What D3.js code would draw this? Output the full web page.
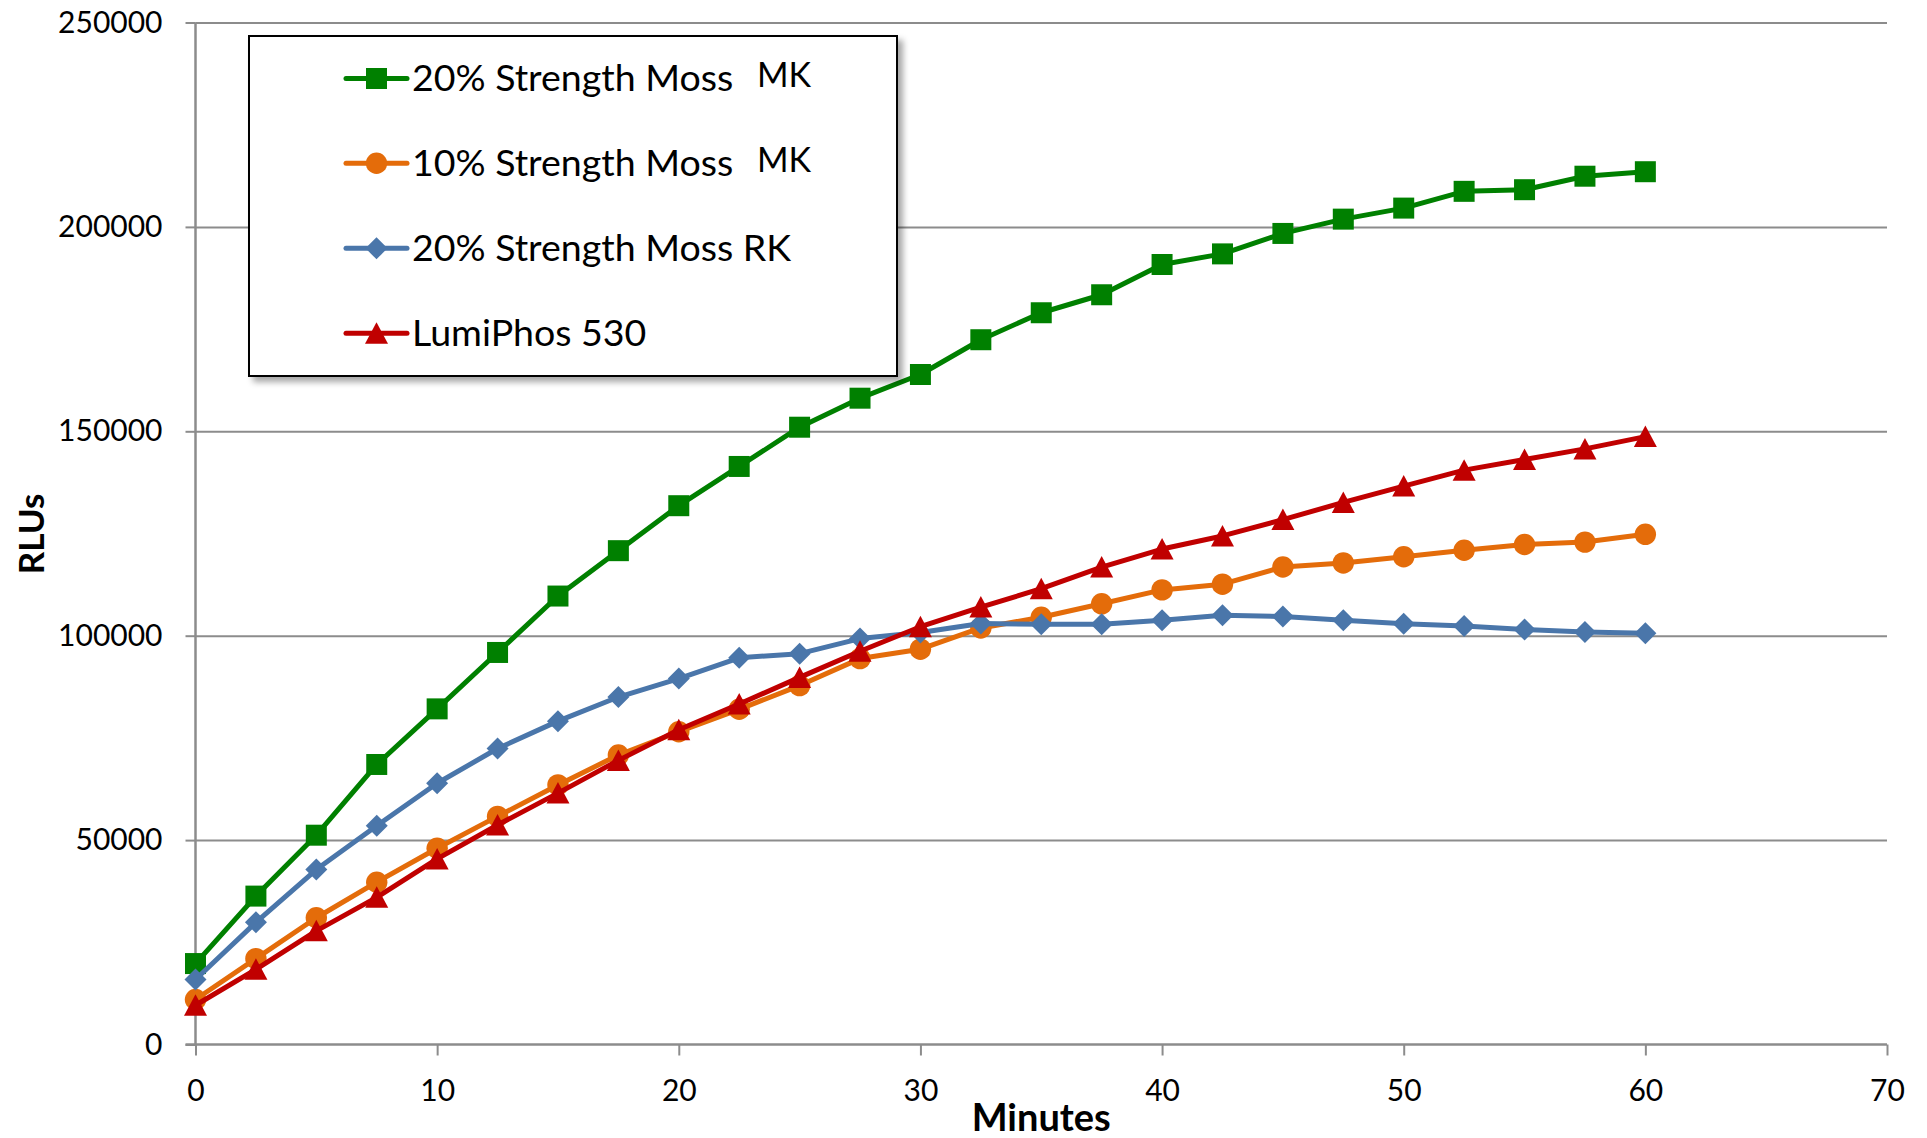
<!DOCTYPE html>
<html>
<head>
<meta charset="utf-8">
<script src="https://cdn.jsdelivr.net/npm/d3@7"></script>
<style>
  html, body { margin: 0; padding: 0; background: #fff; }
  svg { display: block; }
  text { font-family: Lato, "Open Sans", sans-serif; fill: #000; }
</style>
</head>
<body>
<svg id="chart" width="1927" height="1138"></svg>
<script>
// ---------- data ----------
const minutes = [0, 2.5, 5, 7.5, 10, 12.5, 15, 17.5, 20, 22.5, 25, 27.5, 30, 32.5, 35, 37.5, 40, 42.5, 45, 47.5, 50, 52.5, 55, 57.5, 60];

const moss20MK = [19800, 36300, 51200, 68500, 82100, 95900, 109700, 120800, 131800, 141400, 151000, 158100, 163900, 172400, 179000, 183400, 190800, 193400, 198400, 201900, 204600, 208700, 209100, 212400, 213500];
const moss10MK = [11000, 21000, 31000, 39700, 48000, 55800, 63500, 70800, 76500, 82000, 87800, 94400, 96700, 101900, 104500, 107800, 111200, 112600, 116800, 117800, 119300, 120900, 122300, 122900, 124800];
const moss20RK = [15900, 29900, 42800, 53500, 63900, 72400, 79100, 85000, 89500, 94600, 95600, 99300, 100800, 103000, 102800, 102800, 103800, 105000, 104700, 103800, 102900, 102400, 101500, 100900, 100600];
const lumiPhos530 = [9600, 18400, 27800, 36000, 45400, 53700, 61500, 69500, 77000, 83300, 89800, 96200, 102200, 107000, 111500, 116800, 121200, 124400, 128400, 132600, 136600, 140500, 143100, 145700, 148700];

const seriesNames = ["20% Strength Moss", "10% Strength Moss", "20% Strength Moss RK", "LumiPhos 530"];
const seriesSuffix = ["MK", "MK", "", ""];
const yTicks = [0, 50000, 100000, 150000, 200000, 250000];
const xTicks = [0, 10, 20, 30, 40, 50, 60, 70];
const xTitle = "Minutes";
const yTitle = "RLUs";

// ---------- styling ----------
const colors = ["#008000", "#E46C0A", "#4A76AA", "#C00000"];
const markers = ["square", "circle", "diamond", "triangle"];
const seriesValues = [moss20MK, moss10MK, moss20RK, lumiPhos530];

const svg = d3.select("#chart");
svg.append("rect").attr("width", 1927).attr("height", 1138).attr("fill", "#fff");

const pLeft = 195.5, pRight = 1887, pTop = 22.5, pBottom = 1044.5;
const x = d3.scaleLinear().domain([0, 70]).range([pLeft, pRight]);
const y = d3.scaleLinear().domain([0, 250000]).range([pBottom, pTop]);

const gridColor = "#8C8C8C";

// gridlines
svg.append("g")
  .attr("transform", `translate(${pLeft},0)`)
  .call(d3.axisLeft(y).tickValues(yTicks.filter(v => v > 0)).tickSize(-(pRight - pLeft)).tickFormat(""))
  .call(g => g.select(".domain").remove())
  .call(g => g.selectAll("line").attr("stroke", gridColor).attr("stroke-width", 2));

// y axis
svg.append("g")
  .attr("transform", `translate(${pLeft},0)`)
  .call(d3.axisLeft(y).tickValues(yTicks).tickSize(10).tickPadding(23).tickFormat(d3.format("d")))
  .call(g => g.select(".domain").attr("stroke", gridColor).attr("stroke-width", 2.5).attr("d", `M0,${pTop}V${pBottom}`))
  .call(g => g.selectAll("line").attr("stroke", gridColor).attr("stroke-width", 2))
  .call(g => g.selectAll("text").attr("font-size", 30).attr("font-family", "Lato").attr("fill", "#000"));

// x axis
svg.append("g")
  .attr("transform", `translate(0,${pBottom})`)
  .call(d3.axisBottom(x).tickValues(xTicks).tickSize(11).tickPadding(24).tickFormat(d3.format("d")))
  .call(g => g.select(".domain").attr("stroke", gridColor).attr("stroke-width", 2.5).attr("d", `M${pLeft - 10},0H${pRight}`))
  .call(g => g.selectAll("line").attr("stroke", gridColor).attr("stroke-width", 2))
  .call(g => g.selectAll("text").attr("font-size", 30).attr("font-family", "Lato").attr("fill", "#000"));

// axis titles
svg.append("text")
  .attr("x", (pLeft + pRight) / 2).attr("y", 1131)
  .attr("text-anchor", "middle")
  .attr("font-size", 38).attr("font-weight", "bold")
  .text(xTitle);

svg.append("text")
  .attr("transform", "translate(44,534) rotate(-90)")
  .attr("text-anchor", "middle")
  .attr("font-size", 35).attr("font-weight", "bold")
  .text(yTitle);

// marker path generator
function markerPath(type) {
  if (type === "square") return d3.symbol(d3.symbolSquare, 441)();
  if (type === "circle") return d3.symbol(d3.symbolCircle, 360)();
  if (type === "diamond") return "M0,-11L11,0L0,11L-11,0Z";
  return "M0,-11L11.5,10.5L-11.5,10.5Z";
}

const line = d3.line().x((d, i) => x(minutes[i])).y(d => y(d));

seriesValues.forEach((vals, s) => {
  const g = svg.append("g");
  g.append("path")
    .attr("d", line(vals))
    .attr("fill", "none")
    .attr("stroke", colors[s])
    .attr("stroke-width", 5)
    .attr("stroke-linejoin", "round");
  g.selectAll("path.m")
    .data(vals)
    .join("path")
    .attr("class", "m")
    .attr("d", markerPath(markers[s]))
    .attr("transform", (d, i) => `translate(${x(minutes[i])},${y(d)})`)
    .attr("fill", colors[s]);
});

// legend
const defs = svg.append("defs");
const f = defs.append("filter").attr("id", "shadow").attr("x", "-10%").attr("y", "-10%").attr("width", "130%").attr("height", "130%");
f.append("feDropShadow").attr("dx", 5).attr("dy", 5).attr("stdDeviation", 3).attr("flood-color", "#000").attr("flood-opacity", 0.35);

const lg = svg.append("g");
lg.append("rect")
  .attr("x", 249).attr("y", 36).attr("width", 648).attr("height", 340)
  .attr("fill", "#fff").attr("stroke", "#000").attr("stroke-width", 2)
  .attr("filter", "url(#shadow)");

const rowY = [78.5, 163.3, 248.3, 333.3];
seriesNames.forEach((name, s) => {
  const cy = rowY[s];
  lg.append("line")
    .attr("x1", 346).attr("x2", 407).attr("y1", cy).attr("y2", cy)
    .attr("stroke", colors[s]).attr("stroke-width", 5).attr("stroke-linecap", "round");
  lg.append("path")
    .attr("d", markerPath(markers[s]))
    .attr("transform", `translate(376.5,${cy})`)
    .attr("fill", colors[s]);
  lg.append("text")
    .attr("x", 412).attr("y", cy + 12.5)
    .attr("font-size", 37.5)
    .text(name);
  if (seriesSuffix[s]) {
    lg.append("text")
      .attr("x", 757).attr("y", cy + 8.5)
      .attr("font-size", 34)
      .text(seriesSuffix[s]);
  }
});
</script>
</body>
</html>
